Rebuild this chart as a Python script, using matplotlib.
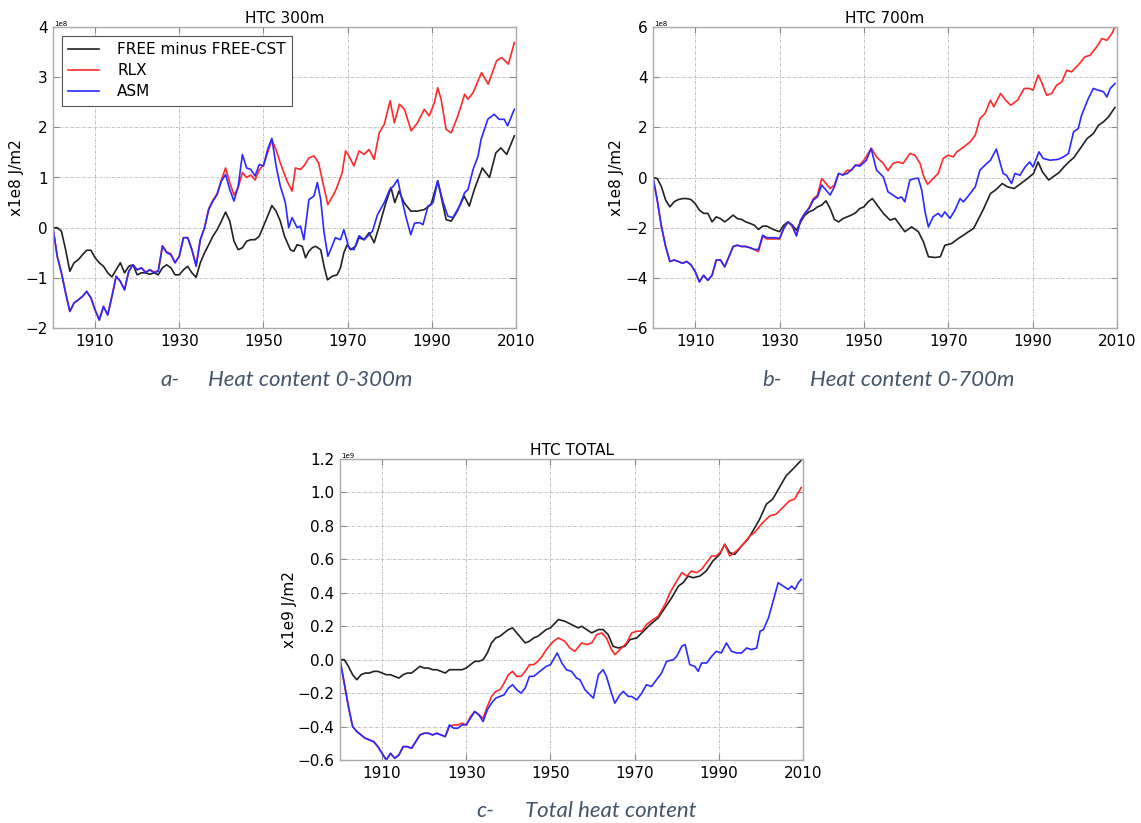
import matplotlib.pyplot as plt

# ---------------- data ----------------
# panel a : HTC 300m, units 1e8 J/m2
a_free_yr = list(range(1900, 1956)) + [
    1956.4, 1957.2, 1958, 1959.2, 1960, 1960.8, 1961.6, 1962.4, 1963.6, 1964.4,
    1965.2, 1966.3, 1967.5, 1968.3, 1969.1, 1969.9, 1970.7, 1971.9, 1972.7, 1973.9,
    1975.1, 1976.3, 1977.5, 1979.1, 1980.3, 1981.2, 1982.2, 1983.4, 1985, 1986.6,
    1988.2, 1989.8, 1990.6, 1991.4, 1992.2, 1993.4, 1994.6, 1995.8, 1997.7, 1998.9,
    2000.1, 2002.0, 2003.7, 2005.2, 2006.4, 2007.8, 2009.6]
a_free = [
    0, 0.0, -0.07, -0.44, -0.87, -0.7, -0.64, -0.54, -0.45, -0.45,
    -0.6, -0.7, -0.77, -0.9, -0.98, -0.84, -0.7, -0.9, -0.77, -0.74,
    -0.94, -0.9, -0.9, -0.93, -0.9, -0.94, -0.8, -0.74, -0.8, -0.94,
    -0.94, -0.84, -0.77, -0.9, -0.99, -0.7, -0.5, -0.34, -0.17, -0.04,
    0.13, 0.31, 0.13, -0.27, -0.44, -0.4, -0.27, -0.24, -0.24, -0.17,
    0.03, 0.23, 0.44, 0.33, 0.13, -0.17,
    -0.44, -0.47, -0.34, -0.37, -0.6, -0.47, -0.4, -0.37, -0.44, -0.77,
    -1.04, -0.97, -0.94, -0.8, -0.5, -0.34, -0.44, -0.37, -0.2, -0.24,
    -0.1, -0.3, 0.03, 0.5, 0.8, 0.5, 0.73, 0.5, 0.33, 0.33,
    0.36, 0.46, 0.69, 0.93, 0.63, 0.16, 0.13, 0.29, 0.63, 0.43,
    0.76, 1.19, 1.0, 1.49, 1.59, 1.46, 1.83]

a_asm_yr = list(range(1900, 1954)) + [
    1954, 1955.2, 1956, 1956.8, 1958, 1958.8, 1959.6, 1960.8, 1962, 1962.8,
    1963.6, 1964.4, 1965.3, 1966.3, 1967.1, 1968.3, 1969.1, 1970.3, 1971.5, 1972.7,
    1973.9, 1975.1, 1975.9, 1977.1, 1978.7, 1980.0, 1980.9, 1981.9, 1982.7, 1983.9,
    1985, 1985.9, 1987.1, 1987.9, 1989.1, 1990.3, 1991.4, 1992.6, 1993.8, 1995,
    1996.6, 1997.8, 1998.6, 1999.8, 2001.0, 2001.7, 2003.3, 2004.8, 2006.0, 2007.2,
    2008.0, 2009.6]
a_asm = [
    0, -0.57, -0.9, -1.3, -1.67, -1.5, -1.44, -1.37, -1.27, -1.4,
    -1.64, -1.84, -1.57, -1.74, -1.37, -0.97, -1.07, -1.24, -0.87, -0.74,
    -0.84, -0.8, -0.9, -0.84, -0.9, -0.87, -0.37, -0.5, -0.54, -0.7,
    -0.57, -0.2, -0.2, -0.44, -0.77, -0.24, 0.0, 0.36, 0.53, 0.66,
    0.93, 1.06, 0.76, 0.53, 0.83, 1.46, 1.19, 1.16, 1.03, 1.26,
    1.23, 1.56, 1.78, 1.23,
    0.83, 0.5, 0.0, 0.2, 0.0, 0.03, -0.24, 0.56, 0.63, 0.9,
    0.56, -0.1, -0.57, -0.37, -0.2, -0.24, -0.04, -0.4, -0.44, -0.16,
    -0.24, -0.14, -0.07, 0.26, 0.5, 0.76, 0.83, 0.96, 0.63, 0.2,
    -0.14, 0.09, 0.1, 0.06, 0.43, 0.5, 0.93, 0.53, 0.23, 0.2,
    0.43, 0.7, 0.76, 1.16, 1.43, 1.76, 2.16, 2.26, 2.16, 2.16,
    2.03, 2.36]

a_rlx_yr = list(range(1900, 1954)) + [
    1954.0, 1955.6, 1956.8, 1957.6, 1958.8, 1959.6, 1960.8, 1962, 1963.1, 1964.3,
    1965.3, 1967.1, 1968.7, 1969.5, 1970.3, 1971.5, 1972.7, 1973.9, 1975.1, 1976.3,
    1977.5, 1978.7, 1980.1, 1981.1, 1982.3, 1983.5, 1985.1, 1986.6, 1988.2, 1989.4,
    1990.6, 1991.4, 1992.2, 1993.4, 1994.6, 1996.2, 1997.8, 1998.6, 1999.8, 2001.8,
    2003.4, 2005.4, 2006.6, 2008.2, 2009.6]
a_rlx = [
    0, -0.57, -0.9, -1.3, -1.67, -1.5, -1.44, -1.37, -1.27, -1.4,
    -1.64, -1.84, -1.57, -1.74, -1.37, -0.97, -1.07, -1.24, -0.87, -0.74,
    -0.84, -0.8, -0.88, -0.84, -0.88, -0.86, -0.36, -0.48, -0.52, -0.7,
    -0.57, -0.2, -0.2, -0.44, -0.75, -0.24, 0.0, 0.38, 0.55, 0.68,
    0.95, 1.19, 0.9, 0.65, 0.8, 1.1, 1.0, 1.05, 0.95, 1.15,
    1.25, 1.5, 1.75, 1.55,
    1.29, 0.93, 0.73, 1.19, 1.16, 1.23, 1.39, 1.43, 1.29, 0.83,
    0.46, 0.73, 1.09, 1.53, 1.43, 1.23, 1.53, 1.46, 1.56, 1.36,
    1.89, 2.06, 2.53, 2.09, 2.46, 2.36, 1.93, 2.09, 2.36, 2.23,
    2.49, 2.79, 2.56, 1.96, 1.89, 2.23, 2.66, 2.56, 2.69, 3.09,
    2.86, 3.33, 3.39, 3.26, 3.69]

# panel b : HTC 700m, units 1e8 J/m2
b_free_yr = list(range(1900, 1953)) + [
    1954.6, 1956.2, 1957.4, 1959.7, 1961.3, 1962.9, 1964.1, 1965.3, 1966.9, 1968.1,
    1969.2, 1970.8, 1972.4, 1973.6, 1974.8, 1976, 1976.8, 1978.4, 1980, 1981.2,
    1982.8, 1984, 1985.6, 1987.2, 1988.8, 1990.2, 1991.3, 1992.3, 1993.8, 1995.2,
    1996.3, 1997.4, 1998.6, 1999.8, 2001.3, 2002.9, 2004.4, 2005.6, 2006.8, 2008,
    2009.5]
b_free = [
    0, -0.04, -0.37, -0.9, -1.17, -0.97, -0.88, -0.84, -0.84, -0.88,
    -1.04, -1.3, -1.43, -1.43, -1.77, -1.57, -1.64, -1.77, -1.64, -1.5,
    -1.64, -1.67, -1.77, -1.83, -1.9, -2.07, -1.94, -1.94, -2.03, -2.1,
    -2.16, -1.9, -1.77, -1.9, -2.1, -1.77, -1.5, -1.37, -1.3, -1.17,
    -1.1, -0.93, -1.24, -1.67, -1.77, -1.64, -1.57, -1.5, -1.41, -1.24,
    -1.17, -0.97, -0.84,
    -1.43, -1.7, -1.63, -2.16, -1.97, -2.16, -2.56, -3.16, -3.19, -3.16,
    -2.7, -2.63, -2.43, -2.3, -2.16, -2.03, -1.77, -1.24, -0.64, -0.5,
    -0.24, -0.37, -0.44, -0.24, -0.04, 0.16, 0.62, 0.23, -0.1, 0.07,
    0.2, 0.42, 0.62, 0.8, 1.16, 1.55, 1.75, 2.08, 2.22, 2.42,
    2.79]

b_asm_yr = list(range(1900, 1950)) + [
    1950.6, 1951.7, 1953, 1954.6, 1955.7, 1956.9, 1958.1, 1958.9, 1959.7, 1960.9,
    1962.1, 1962.9, 1963.7, 1964.5, 1965.3, 1966.4, 1967.6, 1968.4, 1969.2, 1970.4,
    1971.6, 1972.8, 1973.6, 1975.2, 1976.4, 1977.5, 1978.7, 1980, 1981.4, 1983.0,
    1983.8, 1985, 1985.8, 1987, 1988.2, 1989.3, 1990.1, 1991.5, 1992.5, 1994.1,
    1996, 1997.3, 1998.5, 1999.7, 2000.8, 2001.6, 2003.2, 2004.4, 2005.6, 2006.8,
    2007.6, 2008.4, 2009.5]
b_asm = [
    0, -0.9, -1.96, -2.75, -3.35, -3.29, -3.35, -3.42, -3.35, -3.48,
    -3.75, -4.16, -3.9, -4.1, -3.9, -3.29, -3.29, -3.56, -3.16, -2.75,
    -2.7, -2.75, -2.75, -2.8, -2.87, -2.87, -2.3, -2.4, -2.4, -2.4,
    -2.43, -2.03, -1.77, -1.9, -2.33, -1.7, -1.43, -1.24, -0.9, -0.77,
    -0.3, -0.5, -0.7, -0.37, 0.16, 0.1, 0.16, 0.29, 0.49, 0.45,
    0.69, 1.16, 0.29, 0.03, -0.57, -0.7, -0.84, -0.77, -0.97, -0.1,
    -0.04, -0.03, -0.5, -1.37, -1.97, -1.57, -1.43, -1.57, -1.37, -1.63,
    -1.3, -0.84, -0.97, -0.64, -0.37, 0.29, 0.49, 0.69, 1.13, 0.16,
    0.09, -0.24, 0.16, 0.09, 0.42, 0.62, 0.42, 1.02, 0.76, 0.69,
    0.72, 0.82, 0.96, 1.82, 1.95, 2.48, 3.15, 3.55, 3.48, 3.42,
    3.21, 3.55, 3.74]

b_rlx_yr = list(range(1900, 1952)) + [
    1951.8, 1953, 1954.6, 1955.7, 1956.9, 1958.1, 1959.3, 1960.9, 1962.1, 1963.3,
    1964.2, 1965.1, 1966.4, 1967.6, 1968.8, 1970, 1971.2, 1972, 1973.2, 1975.2,
    1976.4, 1977.5, 1978.7, 1980, 1980.8, 1982.4, 1983.6, 1984.8, 1986.4, 1988,
    1989.3, 1990.1, 1991.3, 1992.1, 1993.3, 1994.5, 1995.7, 1996.9, 1998.1, 1999.2,
    2000.8, 2002.4, 2003.6, 2005.2, 2006.4, 2007.6, 2008.8, 2009.5]
b_rlx = [
    0, -0.9, -1.96, -2.75, -3.35, -3.29, -3.35, -3.42, -3.35, -3.48,
    -3.75, -4.16, -3.9, -4.1, -3.9, -3.29, -3.29, -3.56, -3.16, -2.75,
    -2.7, -2.75, -2.75, -2.8, -2.87, -2.95, -2.35, -2.45, -2.45, -2.45,
    -2.45, -2.03, -1.77, -1.95, -2.3, -1.7, -1.43, -1.2, -0.85, -0.7,
    -0.04, -0.24, -0.44, -0.3, 0.16, 0.1, 0.29, 0.29, 0.49, 0.5,
    0.69, 0.96,
    1.16, 0.82, 0.56, 0.27, 0.56, 0.62, 0.56, 0.96, 0.89, 0.56,
    0.03, -0.27, -0.04, 0.16, 0.76, 0.89, 0.82, 1.02, 1.16, 1.42,
    1.69, 2.35, 2.55, 3.08, 2.82, 3.35, 3.08, 2.88, 3.08, 3.55,
    3.55, 3.48, 4.08, 3.81, 3.28, 3.35, 3.68, 3.81, 4.28, 4.21,
    4.48, 4.81, 4.87, 5.21, 5.54, 5.47, 5.74, 6.0]

# panel c : HTC TOTAL, units 1e9 J/m2
c_free_yr = list(range(1900, 1951)) + [
    1951.9, 1953.4, 1955, 1956.6, 1957.4, 1958.6, 1959.8, 1961.4, 1962.5, 1963.7,
    1964.9, 1966.1, 1967.7, 1968.9, 1970.5, 1972.1, 1973.7, 1975.6, 1977.2, 1978.8,
    1980.4, 1981.5, 1982.7, 1983.9, 1985.5, 1987, 1988.6, 1990.2, 1991.4, 1992.6,
    1993.8, 1995.4, 1996.9, 1998.1, 1999.7, 2001.3, 2002.8, 2004.4, 2006, 2007.6,
    2009.5]
c_free = [
    0, 0.0, -0.04, -0.09, -0.12, -0.09, -0.08, -0.08, -0.07, -0.07,
    -0.08, -0.09, -0.09, -0.1, -0.11, -0.09, -0.08, -0.08, -0.06, -0.04,
    -0.05, -0.05, -0.06, -0.06, -0.07, -0.08, -0.06, -0.06, -0.06, -0.06,
    -0.05, -0.03, -0.01, -0.01, 0.0, 0.04, 0.1, 0.13, 0.14, 0.16,
    0.18, 0.19, 0.16, 0.13, 0.1, 0.11, 0.13, 0.14, 0.16, 0.18,
    0.19,
    0.24, 0.23, 0.21, 0.19, 0.2, 0.18, 0.16, 0.18, 0.18, 0.15,
    0.08, 0.07, 0.08, 0.12, 0.13, 0.17, 0.21, 0.25, 0.31, 0.37,
    0.44, 0.46, 0.5, 0.49, 0.5, 0.53, 0.59, 0.63, 0.69, 0.64,
    0.63, 0.68, 0.72, 0.77, 0.84, 0.93, 0.96, 1.03, 1.1, 1.14,
    1.19]

c_asm_yr = list(range(1900, 1951)) + [
    1951.6, 1952.7, 1953.8, 1955, 1956.2, 1957, 1958.2, 1959.4, 1960.2, 1961.4,
    1962.5, 1963.3, 1964.5, 1965.3, 1966.5, 1967.3, 1968.5, 1969.3, 1970.5, 1971.7,
    1972.8, 1974, 1975.2, 1976.4, 1977.6, 1979.2, 1980, 1981.2, 1982, 1983.1,
    1984.3, 1985.1, 1985.9, 1987.1, 1988.3, 1989.4, 1990.6, 1991.8, 1993, 1994.2,
    1995.4, 1996.6, 1997.8, 1999, 1999.8, 2000.6, 2001.8, 2002.9, 2004.1, 2005.3,
    2006.5, 2007.3, 2008.1, 2008.9, 2009.6]
c_asm = [
    0, -0.14, -0.28, -0.4, -0.43, -0.45, -0.47, -0.48, -0.49, -0.52,
    -0.56, -0.6, -0.56, -0.59, -0.57, -0.52, -0.52, -0.53, -0.49, -0.45,
    -0.44, -0.44, -0.45, -0.44, -0.45, -0.46, -0.39, -0.41, -0.41, -0.39,
    -0.39, -0.35, -0.31, -0.33, -0.37, -0.3, -0.26, -0.23, -0.22, -0.21,
    -0.17, -0.15, -0.18, -0.2, -0.17, -0.1, -0.1, -0.08, -0.06, -0.04,
    -0.03,
    0.04, -0.02, -0.06, -0.07, -0.11, -0.12, -0.18, -0.21, -0.23, -0.09,
    -0.06, -0.1, -0.2, -0.26, -0.21, -0.19, -0.22, -0.22, -0.24, -0.2,
    -0.15, -0.16, -0.12, -0.08, -0.01, 0.0, 0.02, 0.08, 0.09, -0.03,
    -0.04, -0.07, -0.02, -0.02, 0.02, 0.05, 0.04, 0.1, 0.05, 0.04,
    0.04, 0.07, 0.06, 0.07, 0.17, 0.18, 0.25, 0.35, 0.46, 0.44,
    0.42, 0.44, 0.42, 0.46, 0.48]

c_rlx_yr = list(range(1900, 1951)) + [
    1950.7, 1951.9, 1953.4, 1954.6, 1955.8, 1957.4, 1958.6, 1959.8, 1961, 1962.2,
    1963.3, 1964.5, 1965.3, 1966.9, 1968.1, 1969.3, 1970.5, 1971.7, 1972.8, 1974.4,
    1975.6, 1977.2, 1978.4, 1980, 1981.2, 1982.4, 1983.5, 1984.7, 1985.9, 1987.1,
    1988.3, 1989.4, 1990.6, 1991.4, 1992.6, 1994.2, 1995.8, 1997.4, 1998.5, 2000.1,
    2002.1, 2003.6, 2005.2, 2006.8, 2008, 2009.6]
c_rlx = [
    0, -0.14, -0.28, -0.4, -0.43, -0.45, -0.47, -0.48, -0.49, -0.52,
    -0.56, -0.6, -0.56, -0.59, -0.57, -0.52, -0.52, -0.53, -0.49, -0.45,
    -0.44, -0.44, -0.45, -0.44, -0.45, -0.46, -0.4, -0.39, -0.39, -0.38,
    -0.39, -0.34, -0.31, -0.33, -0.35, -0.28, -0.22, -0.19, -0.18, -0.14,
    -0.09, -0.07, -0.1, -0.1, -0.07, -0.03, -0.03, -0.01, 0.02, 0.06,
    0.09,
    0.11, 0.13, 0.11, 0.07, 0.05, 0.1, 0.09, 0.1, 0.15, 0.16,
    0.13, 0.06, 0.03, 0.07, 0.1, 0.16, 0.17, 0.17, 0.21, 0.24,
    0.26, 0.33, 0.4, 0.47, 0.52, 0.5, 0.53, 0.52, 0.54, 0.58,
    0.62, 0.62, 0.65, 0.69, 0.62, 0.65, 0.69, 0.74, 0.76, 0.81,
    0.86, 0.87, 0.91, 0.95, 0.96, 1.03]

labels = ['FREE minus FREE-CST', 'RLX', 'ASM']
colors = ['#222222', '#ff2a2a', '#2a2aff']

# ---------------- figure ----------------
W, H = 1141, 823
fig = plt.figure(figsize=(W / 100, H / 100), dpi=100)


def make_axes(left, top, right, bottom):
    # pixel box -> figure fraction
    return fig.add_axes([left / W, 1 - bottom / H, (right - left) / W, (bottom - top) / H])


def style(ax, title, ylim, yticks, unit, ylabel, labelpad):
    ax.set_xlim(1900, 2010)
    ax.set_ylim(*ylim)
    ax.set_xticks([1910, 1930, 1950, 1970, 1990, 2010])
    ax.set_yticks(yticks)
    ax.grid(True, color='#b0b0b0', linestyle=(0, (3, 1.5, 1, 1.5)), linewidth=0.6)
    ax.tick_params(direction='in', top=True, right=True, length=4,
                   color='#888888', labelsize=11, pad=4)
    for s in ax.spines.values():
        s.set_color('#aaaaaa')
        s.set_linewidth(1.0)
    ax.set_title(title, fontsize=11, pad=3)
    ax.set_ylabel(ylabel, fontsize=11, labelpad=labelpad)
    ax.text(0.002, 1.0, unit, transform=ax.transAxes, fontsize=5,
            ha='left', va='bottom')


series = [
    ((a_free_yr, a_free), (a_rlx_yr, a_rlx), (a_asm_yr, a_asm)),
    ((b_free_yr, b_free), (b_rlx_yr, b_rlx), (b_asm_yr, b_asm)),
    ((c_free_yr, c_free), (c_rlx_yr, c_rlx), (c_asm_yr, c_asm)),
]

ax_a = make_axes(53, 27, 516, 328)
ax_b = make_axes(653, 27, 1117, 328)
ax_c = make_axes(340, 459, 803, 760)

for ax, data in zip([ax_a, ax_b, ax_c], series):
    for (yr, val), lab, col in zip(data, labels, colors):
        ax.plot(yr, val, color=col, lw=1.2, label=lab)

style(ax_a, 'HTC 300m', (-2, 4), [-2, -1, 0, 1, 2, 3, 4], '1e8', 'x1e8 J/m2', 1)
style(ax_b, 'HTC 700m', (-6, 6), [-6, -4, -2, 0, 2, 4, 6], '1e8', 'x1e8 J/m2', 1)
style(ax_c, 'HTC TOTAL', (-0.6, 1.2), [-0.6, -0.4, -0.2, 0.0, 0.2, 0.4, 0.6, 0.8, 1.0, 1.2],
      '1e9', 'x1e9 J/m2', 0)

leg = ax_a.legend(loc='upper left', fontsize=11, fancybox=False, framealpha=1,
                  edgecolor='#555555', handlelength=2.0, borderaxespad=0.6,
                  labelspacing=0.4, handletextpad=1.2)
leg.get_frame().set_linewidth(0.8)

# captions under each panel
cap = dict(fontsize=16, style='italic', color='#44546A', family='Lato', va='center')
fig.text(160 / W, 1 - 380 / H, 'a-', **cap)
fig.text(208 / W, 1 - 380 / H, 'Heat content 0-300m', **cap)
fig.text(762 / W, 1 - 380 / H, 'b-', **cap)
fig.text(810 / W, 1 - 380 / H, 'Heat content 0-700m', **cap)
fig.text(476 / W, 1 - 811 / H, 'c-', **cap)
fig.text(525 / W, 1 - 811 / H, 'Total heat content', **cap)

fig.savefig('out.png', dpi=100)
